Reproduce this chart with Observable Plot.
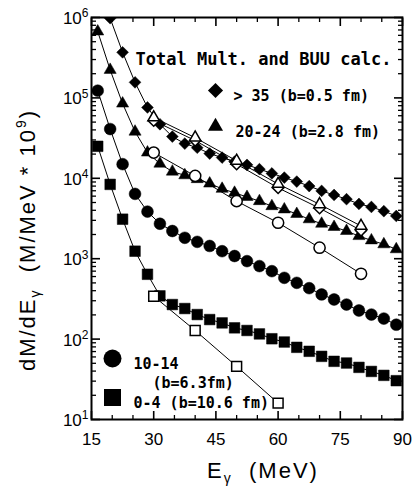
<!DOCTYPE html>
<html><head><meta charset="utf-8">
<script src="https://cdn.jsdelivr.net/npm/d3@7"></script>
<script src="https://cdn.jsdelivr.net/npm/@observablehq/plot@0.6"></script>
<style>body{margin:0;background:#fff;} svg{display:block;}</style>
</head><body><div id="chart"></div>
<script>
// ---- data ----
const E16 = [16.5,19.5,22.5,25.5,28.5,31.5,34.5,37.5,40.5,43.5,46.5,49.5,52.5,55.5,58.5,61.5,64.5,67.5,70.5,73.5,76.5,79.5,82.5,85.5,88.5];
const E19 = [19.5,22.5,25.5,28.5,31.5,34.5,37.5,40.5,43.5,46.5,49.5,52.5,55.5,58.5,61.5,64.5,67.5,70.5,73.5,76.5,79.5,82.5,85.5,88.5];
const mult35 = [9.8e5,3.69e5,1.56e5,7.6e4,4.7e4,3.3e4,2.7e4,2.4e4,2.03e4,1.81e4,1.61e4,1.47e4,1.30e4,1.15e4,1.02e4,9.1e3,8.0e3,6.97e3,6.2e3,5.5e3,4.8e3,4.4e3,3.9e3,3.4e3];
const mult20 = [6.7e5,2.23e5,8.5e4,3.8e4,2.09e4,1.52e4,1.21e4,1.09e4,9.76e3,8.6e3,7.4e3,6.6e3,5.86e3,5.2e3,4.5e3,4.1e3,3.6e3,3.09e3,2.72e3,2.48e3,2.21e3,1.91e3,1.69e3,1.51e3,1.31e3];
const mult10 = [1.23e5,4.1e4,1.5e4,6.4e3,3.85e3,2.72e3,2.21e3,1.82e3,1.62e3,1.44e3,1.24e3,1.08e3,933,809,700,578,501,430,359,311,269,227,202,180,151];
const mult0  = [2.5e4,8.4e3,3.1e3,1.24e3,640,345,269,240,202,175,159,138,128,116,101,92,79,70.5,61,52.9,50.4,44.5,39.6,35.4,30.4];
const Ebuu = [30,40,50,60,70,80];
const buu35 = [5.2e4,2.95e4,1.5e4,7.6e3,4.25e3,2.25e3];
const buu20 = [5.7e4,3.2e4,1.65e4,8.5e3,4.75e3,2.55e3];
const buu10 = [2.09e4,1.07e4,5.2e3,2.8e3,1.37e3,649];
const Ebuu0 = [30,40,50,60];
const buu0  = [342,128,45.8,16.0];
const xTicks = [15,30,45,60,75,90];
const yTicks = [1e1,1e2,1e3,1e4,1e5,1e6];
const titleText = "Total Mult. and BUU calc.";
const legendTexts = ["> 35 (b=0.5 fm)", "20-24 (b=2.8 fm)", "10-14", "(b=6.3fm)", "0-4 (b=10.6 fm)"];

// ---- build tables ----
const pts = (xs, ys) => xs.map((x, i) => ({E: x, v: ys[i]}));
const d35 = pts(E19, mult35), d20 = pts(E16, mult20), d10 = pts(E16, mult10), d0 = pts(E16, mult0);
const b35 = pts(Ebuu, buu35), b20 = pts(Ebuu, buu20), b10 = pts(Ebuu, buu10), b0 = pts(Ebuu0, buu0);
const xMinor = d3.range(20, 90, 5).filter(v => !xTicks.includes(v));
const yMinor = [];
for (let p = 1; p < 6; p++) for (let m = 2; m <= 9; m++) yMinor.push(m * 10 ** p);

const mono = "DejaVu Sans Mono, monospace";
const sans = "Liberation Sans, Arial, DejaVu Sans, sans-serif";
const L = (data) => Plot.line(data, {x: "E", y: "v", stroke: "black", strokeWidth: 1, clip: true});
const D = (data, symbol, r, fill) => Plot.dot(data, {x: "E", y: "v", symbol, r, fill, stroke: "black", strokeWidth: fill === "white" ? 1.5 : 0.5, clip: true});
const noTxt = () => "";
const legText = (t, dx, dy, size) => Plot.text([t], {frameAnchor: "top-left", dx, dy, text: d => d, textAnchor: "start", fontFamily: mono, fontSize: size, fontWeight: "bold"});

const chart = Plot.plot({
  width: 415, height: 495,
  marginLeft: 91, marginRight: 13, marginTop: 17, marginBottom: 76,
  style: {fontFamily: sans, background: "white", color: "black"},
  x: {domain: [15, 90], label: null},
  y: {type: "log", domain: [10, 1e6], label: null},
  marks: [
    // inward ticks
    Plot.axisX({ticks: xTicks, tickSize: -8, tickFormat: noTxt, label: null, strokeWidth: 1.6}),
    Plot.axisX({ticks: xMinor, tickSize: -4, tickFormat: noTxt, label: null, strokeWidth: 1.3}),
    Plot.axisX({anchor: "top", ticks: xTicks, tickSize: -8, tickFormat: noTxt, label: null, strokeWidth: 1.6}),
    Plot.axisX({anchor: "top", ticks: xMinor, tickSize: -4, tickFormat: noTxt, label: null, strokeWidth: 1.3}),
    Plot.axisY({ticks: yTicks, tickSize: -9, tickFormat: noTxt, label: null, strokeWidth: 1.6}),
    Plot.axisY({ticks: yMinor, tickSize: -5, tickFormat: noTxt, label: null, strokeWidth: 1.3}),
    Plot.axisY({anchor: "right", ticks: yTicks, tickSize: -9, tickFormat: noTxt, label: null, strokeWidth: 1.6}),
    Plot.axisY({anchor: "right", ticks: yMinor, tickSize: -5, tickFormat: noTxt, label: null, strokeWidth: 1.3}),
    // tick labels
    Plot.axisX({ticks: xTicks, tickSize: 0, tickPadding: 13, fontSize: 17, label: null, tickFormat: d => String(d)}),
    Plot.axisY({ticks: yTicks, tickSize: 0, tickPadding: 3, fontSize: 17, dy: 1, label: null,
      tickFormat: d => "10^" + Math.round(Math.log10(d))}),
    Plot.frame({stroke: "black", strokeWidth: 2}),
    // lines
    L(d35), L(d20), L(d10), L(d0), L(b35), L(b20), L(b10), L(b0),
    // markers
    D(d35, "diamond2", 5.3, "black"),
    D(d20, "triangle", 4.5, "black"),
    D(d10, "circle", 5.9, "black"),
    D(d0, "square", 6.0, "black"),
    D(b35, "diamond2", 5.0, "white"),
    D(b20, "triangle", 4.3, "white"),
    D(b10, "circle", 5.6, "white"),
    D(b0, "square", 5.6, "white"),
    // legend
    legText(titleText, 44, 35, 17),
    Plot.dot([0], {frameAnchor: "top-left", dx: 124, dy: 73, symbol: "diamond2", r: 6.8, fill: "black"}),
    Plot.dot([0], {frameAnchor: "top-left", dx: 124, dy: 109, symbol: "triangle", r: 5.6, fill: "black"}),
    Plot.dot([0], {frameAnchor: "top-left", dx: 21, dy: 341, symbol: "circle", r: 9, fill: "black"}),
    Plot.dot([0], {frameAnchor: "top-left", dx: 21, dy: 380, symbol: "square", r: 9.6, fill: "black"}),
    legText(legendTexts[0], 142, 73, 15),
    legText(legendTexts[1], 144, 109, 15),
    legText(legendTexts[2], 42, 341, 15),
    legText(legendTexts[3], 61, 360, 15),
    legText(legendTexts[4], 42, 380, 15)
  ]
});
document.getElementById("chart").appendChild(chart);

const svg = d3.select(chart);
// superscript exponents on the y tick labels
svg.selectAll('g[aria-label="y-axis tick label"] text').each(function() {
  const t = d3.select(this);
  const s = t.text();
  if (!s.includes("^")) return;
  const [base, exp] = s.split("^");
  t.text("");
  t.append("tspan").text(base);
  t.append("tspan").attr("font-size", 12).attr("dy", "-0.55em").text(exp);
});

// axis titles with subscript gamma
const xl = svg.append("text").attr("x", 263).attr("y", 478).attr("text-anchor", "middle")
  .attr("font-family", sans).attr("font-size", 22).attr("letter-spacing", 2).attr("fill", "black")
  .attr("xml:space", "preserve");
xl.append("tspan").text("E");
xl.append("tspan").attr("font-size", 14).attr("dy", 5).text("γ");
xl.append("tspan").attr("dy", -5).text("  (MeV)");
const yl = svg.append("text").attr("transform", "translate(35,240) rotate(-90)").attr("text-anchor", "middle")
  .attr("font-family", sans).attr("font-size", 22).attr("letter-spacing", 2).attr("fill", "black")
  .attr("xml:space", "preserve");
yl.append("tspan").text("dM/dE");
yl.append("tspan").attr("font-size", 14).attr("dy", 5).text("γ");
yl.append("tspan").attr("dy", -5).text("  (M/MeV * 10");
yl.append("tspan").attr("font-size", 14).attr("dy", -9).text("9");
yl.append("tspan").attr("dy", 9).text(")");
</script>
</body></html>
